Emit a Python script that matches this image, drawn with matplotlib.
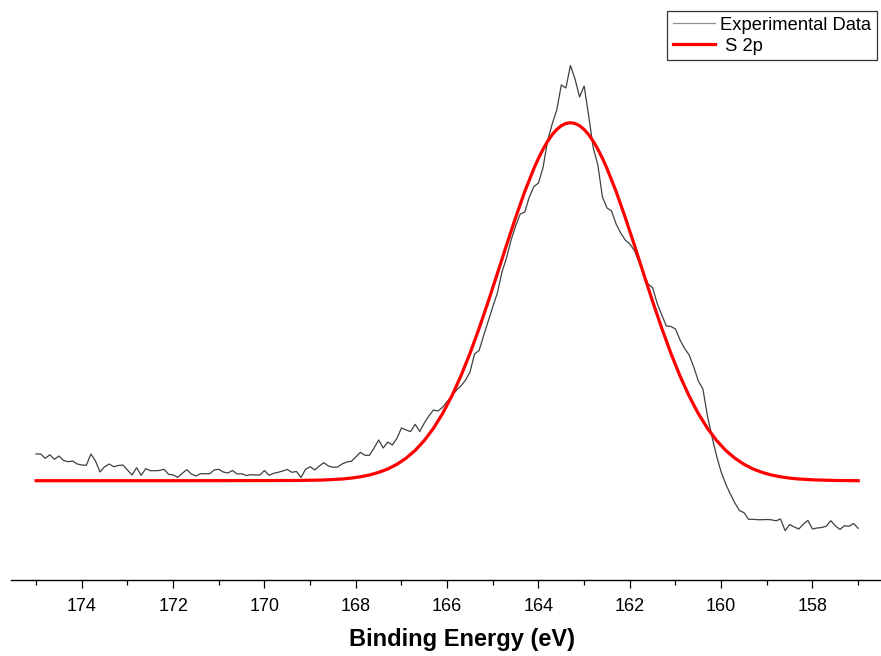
import numpy as np
import matplotlib
matplotlib.use('Agg')
import matplotlib.pyplot as plt
from matplotlib.ticker import MultipleLocator

plt.rcParams['font.family'] = ['Liberation Sans', 'DejaVu Sans']

# binding energy grid of the scan, 175.0 -> 157.0 eV in 0.1 eV steps
energy = np.round(np.linspace(175.0, 157.0, 181), 1)

# experimental counts (arbitrary units), one row per eV
exp_counts = [126,
    126, 121.7, 125.3, 120.7, 124, 119.5, 118.3, 119, 116, 115,        # 174.9-174.0
    114.7, 126, 119, 108, 113.3, 116, 113.3, 114.5, 115, 110,          # 173.9-173.0
    105, 112.3, 104.7, 111.3, 109.3, 109.3, 109.5, 110.7, 105.7, 105,  # 172.9-172.0
    102.7, 106.7, 110.3, 106, 104, 106.3, 106.3, 106.3, 110, 110.7,    # 171.9-171.0
    108, 107, 109.5, 106, 106.3, 104.5, 105.3, 105, 105, 109.5,        # 170.9-170.0
    104.7, 106.7, 107.7, 109, 110.5, 107.7, 108.5, 102.5, 110.7, 113.3,  # 169.9-169.0
    110, 114, 117.3, 114, 112.7, 113, 116, 118, 118.7, 123,            # 168.9-168.0
    127.7, 124.7, 124.7, 132, 140, 132, 138, 135, 141.7, 152,          # 167.9-167.0
    150, 148.5, 155.7, 148.5, 157, 164, 170, 169, 172.7, 178.5,        # 166.9-166.0
    184, 189.5, 194, 199.7, 208, 226, 229.5, 244.5, 259, 273.3,        # 165.9-165.0
    287, 308, 322, 340, 354, 366, 368, 383, 393.4, 397,                # 164.9-164.0
    412.5, 439.5, 456, 470, 495, 492, 514.5, 501, 483, 494,            # 163.9-163.0
    464, 432, 415, 383, 372, 369, 356, 347, 340, 336,                  # 162.9-162.0
    329.5, 318, 307, 296, 292.3, 276.5, 265, 254, 253.5, 251,          # 161.9-161.0
    240, 231.5, 225, 213, 199, 191, 164, 143, 124, 108,                # 160.9-160.0
    96, 86, 77, 69.5, 67.3, 60.7, 60.7, 60.3, 60.3, 60.5,              # 159.9-159.0
    60.2, 59.2, 61, 49.3, 55.5, 53, 51, 56, 59.5, 51,                  # 158.9-158.0
    52, 52.5, 53.7, 59.3, 54.3, 50.5, 54.3, 53.7, 56.5, 51.7]          # 157.9-157.0

# S 2p fitted envelope
fit_energy = [175.0, 172.0, 170.0, 169.3, 168.7, 168.3, 168.1, 167.9, 167.7, 167.5,
              167.3, 167.1, 166.9, 166.7, 166.5, 166.3, 166.1, 165.9, 165.7, 165.5,
              165.3, 165.1, 164.9, 164.7, 164.5, 164.3, 164.1, 164.0, 163.9, 163.8,
              163.7, 163.6, 163.5, 163.4, 163.3, 163.2, 163.1, 163.0, 162.9, 162.8,
              162.7, 162.6, 162.5, 162.3, 162.1, 161.9, 161.7, 161.5, 161.3, 161.1,
              160.9, 160.7, 160.5, 160.3, 160.1, 159.9, 159.7, 159.5, 159.3, 159.1,
              158.9, 158.7, 158.5, 158.3, 158.0, 157.5, 157.0]
fit_counts = [99.3, 99.3, 99.4, 99.5, 100.0, 101.0, 101.9, 103.2, 105.0, 107.6,
              111.0, 115.7, 121.8, 129.6, 139.5, 151.7, 166.4, 183.8, 203.9, 226.6,
              251.7, 278.5, 306.5, 334.9, 362.5, 388.5, 411.5, 421.7, 430.8, 438.7,
              445.3, 450.5, 454.3, 456.5, 457.3, 456.5, 454.3, 450.5, 445.3, 438.7,
              430.8, 421.7, 411.5, 388.5, 362.5, 334.9, 306.5, 278.5, 251.7, 226.6,
              203.9, 183.8, 166.4, 151.7, 139.5, 129.6, 121.8, 115.7, 111.0, 107.6,
              105.0, 103.2, 101.9, 101.0, 100.2, 99.5, 99.3]

fig = plt.figure(figsize=(8.81, 6.56), dpi=100)
ax = fig.add_axes([11/881, 76/656, 870/881, 580/656])

ax.plot(energy, exp_counts, color='#404040', lw=0.9, label='Experimental Data')
ax.plot(fit_energy, fit_counts, color='#ff0000', lw=2.3, label=' S 2p')

ax.set_xlim(175.55, 156.5)
ax.set_ylim(0, 580)

for s in ['left', 'right', 'top']:
    ax.spines[s].set_visible(False)
ax.spines['bottom'].set_linewidth(1.0)
ax.set_yticks([])

ax.xaxis.set_major_locator(MultipleLocator(2))
ax.xaxis.set_minor_locator(MultipleLocator(1))
ax.tick_params(axis='x', which='major', direction='out', length=6, width=0.9,
               labelsize=13, pad=7)
ax.tick_params(axis='x', which='minor', direction='out', length=3.5, width=0.9)
ax.set_xlabel('Binding Energy (eV)', fontsize=17, fontweight='bold')
ax.xaxis.set_label_coords((462 - 11) / 870, -0.083)

leg = ax.legend(loc='upper right', bbox_to_anchor=(877/881, 1 - 11/656),
                bbox_transform=fig.transFigure, fontsize=13.2, frameon=True,
                fancybox=False, borderpad=0.3, borderaxespad=0, handlelength=2.3,
                handletextpad=0.3, labelspacing=0.22)
leg.get_frame().set_edgecolor('black')
leg.get_frame().set_linewidth(0.9)
leg.get_lines()[0].set_color('#909090')

fig.savefig('out.png', dpi=100)
